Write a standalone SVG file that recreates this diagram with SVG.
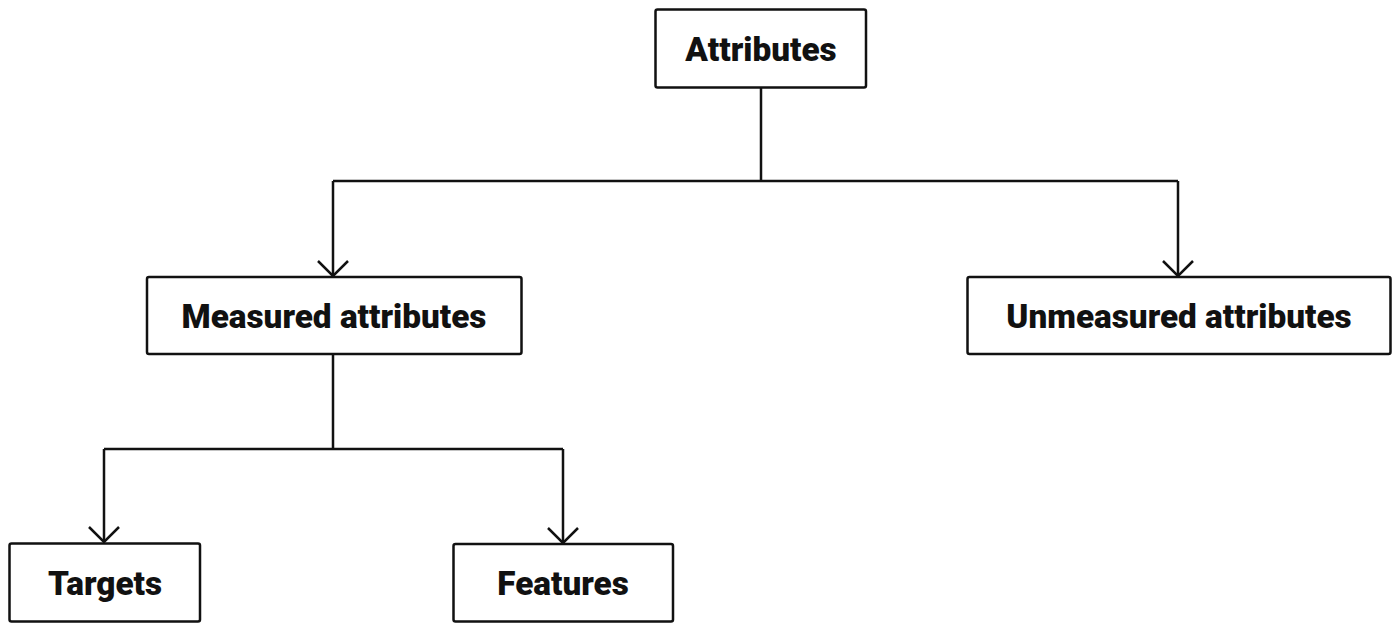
<svg xmlns="http://www.w3.org/2000/svg" width="1400" height="632" viewBox="0 0 1400 632">
<style>
.box{fill:#fff;stroke:#111;stroke-width:2.5}
.lbl{font-family:Roboto,"Liberation Sans",sans-serif;font-weight:900;font-size:33.3px;fill:#111;text-anchor:middle;dominant-baseline:central}
.edge{fill:none;stroke:#111;stroke-width:2.5}
.head{fill:none;stroke:#111;stroke-width:2.5}
</style>
<rect width="1400" height="632" fill="#fff"/>
<g id="connectors">
<path class="edge" d="M761 88 V181 M333 181 H1178 M333 181 V276 M1178 181 V276"/>
<path class="edge" d="M333 354 V449 M104 449 H563 M104 449 V542 M563 449 V543"/>
<path class="head" d="M318 261 L333 276 L348 261"/>
<path class="head" d="M1163 261 L1178 276 L1193 261"/>
<path class="head" d="M89 527 L104 542 L119 527"/>
<path class="head" d="M548 528 L563 543 L578 528"/>
</g>
<g id="attributes"><rect class="box" x="655.5" y="9.5" width="210.5" height="78" rx="2"/><text class="lbl" x="761" y="49">Attributes</text></g>
<g id="measured"><rect class="box" x="147" y="277" width="374.5" height="77" rx="2"/><text class="lbl" x="334" y="316">Measured attributes</text></g>
<g id="unmeasured"><rect class="box" x="967.5" y="277" width="423" height="77" rx="2"/><text class="lbl" x="1179" y="316">Unmeasured attributes</text></g>
<g id="targets"><rect class="box" x="9.5" y="543.5" width="190.5" height="78" rx="2"/><text class="lbl" x="105" y="583">Targets</text></g>
<g id="features"><rect class="box" x="453.5" y="544" width="219.5" height="77.5" rx="2"/><text class="lbl" x="563" y="583">Features</text></g>
</svg>
